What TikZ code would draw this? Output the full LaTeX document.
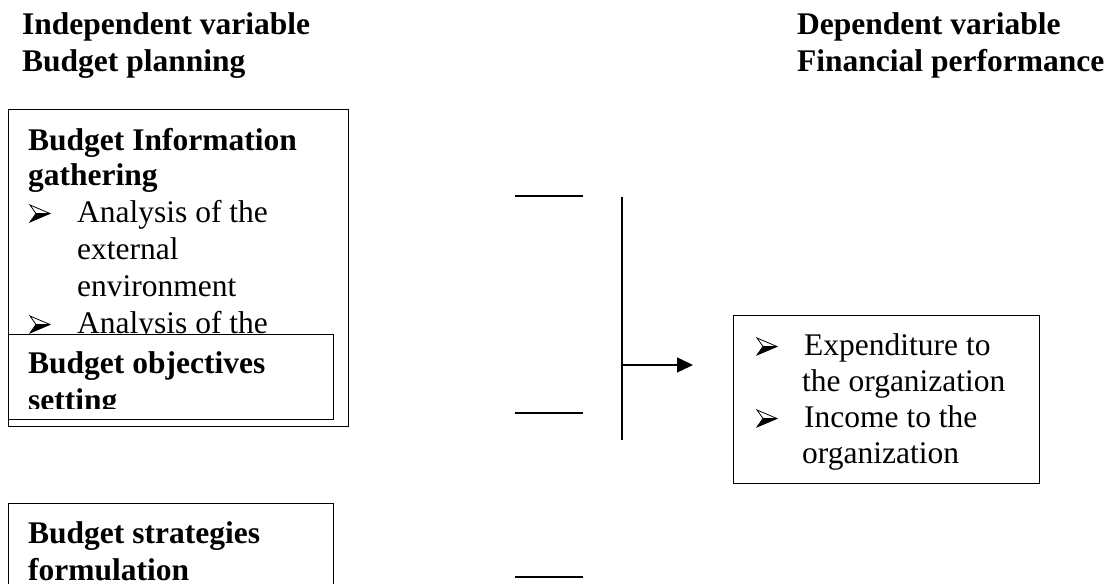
\documentclass[tikz,border=0pt]{standalone}
\usepackage{fontspec}
\setmainfont{Liberation Serif}
\usetikzlibrary{arrows.meta}
% one line of text, placed on its baseline
\newcommand{\textline}[4][] % [style]{x}{y}{text}
{
	\node [txt, #1] at (#2,#3) {#4};
}
% arrowhead bullet and its text
\newcommand{\bulletline}[3] % {x}{y}{text}
{
	\pic at (#1,#2-17) {arrowbullet};
	\node [txt] at (#1+47,#2) {#3};
}
\tikzset{
	txt/.style={anchor=base west, inner sep=0pt, font=\fontsize{31.5}{36}\selectfont},
	bold/.style={font=\fontsize{31.5}{36}\selectfont\bfseries},
	frame/.style={draw, line width=1.3pt, anchor=north west, inner sep=0pt},
	rule/.style={line width=1.3pt},
	arrowbullet/.pic={
		\fill (6,8.5) -- (20,8.5) -- (0,17) -- cycle;
		\draw [line width=0.8pt, line join=miter] (0,0) -- (20,8.5) -- (0,17) -- (6,8.5) -- cycle (6,8.5) -- (20,8.5);
	}
}

\begin{document}
\begin{tikzpicture}[x=1pt,y=-1pt]
	\useasboundingbox (0,0) rectangle (1107,583);
	\clip (0,0) rectangle (1107,583);
	
	% headings
	\textline[bold]{22}{35}{Independent variable}
	\textline[bold]{22}{72}{Budget planning}
	\textline[bold]{797}{35}{Dependent variable}
	\textline[bold]{797}{72}{Financial performance}
	
	% information gathering
	\node (gather) [frame, minimum width=340pt, minimum height=317pt] at (8,109) {};
	\textline[bold]{28}{150}{Budget Information}
	\textline[bold]{28}{185}{gathering}
	\bulletline{30}{222}{Analysis of the}
	\textline{77}{259}{external}
	\textline{77}{296}{environment}
	\bulletline{30}{333}{Analysis of the}
	
	% objectives setting, over the first box
	\node (objectives) [frame, fill=white, minimum width=325pt, minimum height=85pt] at (8,334) {};
	\begin{scope}
		\clip (9,335) rectangle (332,408);
		\textline[bold]{28}{373}{Budget objectives}
		\textline[bold]{28}{410}{setting}
	\end{scope}
	
	% strategies formulation
	\node (strategies) [frame, minimum width=325pt, minimum height=200pt] at (8,503) {};
	\textline[bold]{28}{543}{Budget strategies}
	\textline[bold]{28}{580}{formulation}
	
	% financial performance
	\node (perf) [frame, minimum width=306pt, minimum height=168pt] at (733,315) {};
	\bulletline{757}{355}{Expenditure to}
	\textline{802}{391}{the organization}
	\bulletline{757}{427}{Income to the}
	\textline{802}{463}{organization}
	
	% short lines and bracket
	\coordinate (lnA) at (515,196);
	\coordinate (lnB) at (515,413);
	\coordinate (lnC) at (515,577);
	\draw [rule] (lnA) -- ++(68,0);
	\draw [rule] (lnB) -- ++(68,0);
	\draw [rule] (lnC) -- ++(68,0);
	\coordinate (brtop) at (622,197);
	\coordinate (brbot) at (622,440);
	\coordinate (brmid) at (622,365);
	\coordinate (tip) at (693,365);
	\draw [rule] (brtop) -- (brbot);
	\draw [rule, -{Triangle[length=16pt,width=15pt]}] (brmid) -- (tip);
	
\end{tikzpicture}
\end{document}
